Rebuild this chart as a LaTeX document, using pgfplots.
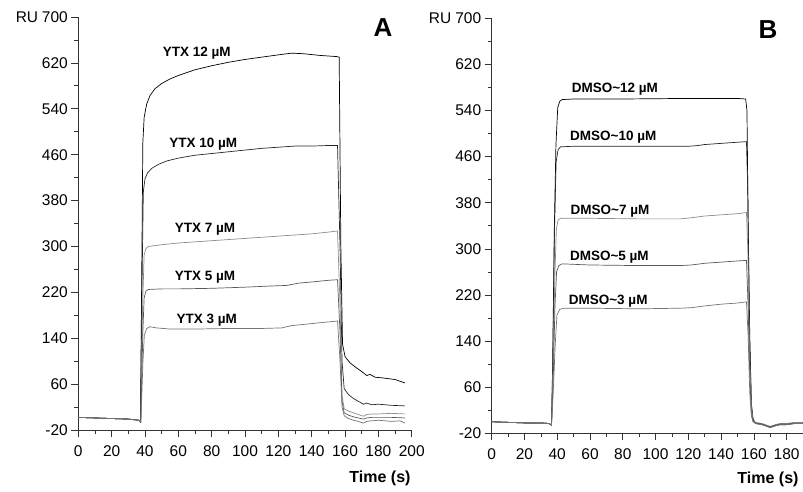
\documentclass[border=0pt]{standalone}
\usepackage{pgfplots}
\pgfplotsset{compat=1.18}
\usepackage{fontspec}
\setmainfont{Liberation Sans}

\pgfplotsset{
  panel/.style={
    scale only axis, anchor=south west,
    axis lines=left, axis line style={-, black!80, line width=0.8pt},
    ymin=-20, ymax=700,
    ytick={-20,60,...,700}, minor y tick num=1,
    minor x tick num=1,
    tick align=outside, major tick length=7pt, minor tick length=4pt,
    tick style={black!80, line width=0.7pt},
    tick label style={font=\fontsize{15.5}{18}\selectfont},
    xticklabel style={yshift=-5pt},
    /pgf/number format/assume math mode=true,
    clip=false,
  },
  curve/.style={line width=0.7pt},
}
\tikzset{lab/.style={font=\fontsize{13.5}{16}\selectfont\bfseries}}

\begin{document}
\begin{tikzpicture}

% ---- panel A: YTX ----
\begin{axis}[panel, at={(78.3pt,61pt)}, width=333.4pt, height=413pt,
  xmin=0, xmax=200, xtick={0,20,...,200}]
\addplot[curve, black] coordinates {
(0,2) (10,1) (20,0) (30,-1) (36.5,-3) (37.3,-6) (38.2,300) (38.7,480) (39.5,525)
(41,548) (43,563) (46,575) (50,584) (55,592) (60,598) (70,608) (80,615) (90,621)
(100,626) (110,630) (120,634) (128,637) (135,636) (145,633) (155,631) (156.5,630)
(157.5,300) (158.5,130) (160,108) (163,97) (167,88) (170,82) (173,75) (175,77)
(178,72) (182,71) (190,68) (196,62) };
\addplot[curve, black!85] coordinates {
(0,2) (10,1) (20,0) (30,-1) (36.5,-3) (37.3,-6) (38.3,250) (39,395) (40,418)
(41.5,428) (44,436) (48,443) (53,449) (60,454) (70,459) (80,462) (90,465)
(100,468) (110,471) (120,473) (130,475) (140,475) (150,476) (155.5,476)
(157,300) (158.2,100) (159.5,52) (162,42) (165,35) (168,30) (171,25) (173,27)
(176,24) (180,25) (188,23) (196,22) };
\addplot[curve, black!45] coordinates {
(0,2) (10,1) (20,0) (30,-1) (36.5,-3) (37.5,-6) (38.6,200) (39.5,285) (40.5,296)
(42,300) (50,303) (60,306) (80,310) (100,314) (120,318) (140,322) (150,325)
(155.5,327) (157,200) (158.2,40) (159.5,17) (162,13) (165,10) (168,7) (171,4)
(173,7) (176,8) (180,8) (188,9) (196,8) };
\addplot[curve, black!65] coordinates {
(0,2) (10,1) (20,0) (30,-1) (36.5,-3) (37.5,-6) (38.7,150) (39.5,210) (40.5,222)
(42,225) (50,226) (60,226) (80,227) (100,229) (115,231) (125,232) (132,236)
(140,238) (150,241) (155.5,242) (157,150) (158.2,30) (159.5,10) (162,6) (165,3)
(168,1) (171,-1) (173,1) (176,2) (180,2) (188,2) (196,1) };
\addplot[curve, black!55] coordinates {
(0,2) (10,1) (20,0) (30,-1) (36.5,-3) (37.5,-6) (38.8,100) (39.6,145) (41,157)
(43,160) (47,158) (55,156) (70,156) (90,157) (110,157) (122,158) (128,162)
(135,164) (145,167) (155.5,170) (157,100) (158.2,20) (159.5,5) (162,0) (165,-3)
(168,-5) (171,-8) (173,-5) (176,-4) (180,-3) (188,-5) (193,-4) (196,-8) };
\node[lab] at (axis cs:71,637) {YTX 12 µM};
\node[lab] at (axis cs:75,479) {YTX 10 µM};
\node[lab] at (axis cs:76,330) {YTX 7 µM};
\node[lab] at (axis cs:76,246) {YTX 5 µM};
\node[lab] at (axis cs:77,172) {YTX 3 µM};
\end{axis}

% ---- panel B: DMSO ----
\begin{axis}[panel, at={(491.7pt,57.7pt)}, width=311.3pt, height=415pt,
  xmin=0, xmax=190, xtick={0,20,...,180}]
\addplot[curve, black] coordinates {
(0,0) (10,-1) (20,-2) (30,-2) (35,-3) (36.5,-6) (37.2,100) (38.2,330) (39.2,480)
(40.3,545) (41.5,556) (43,559) (50,560) (80,560) (120,561) (150,561) (155,560)
(155.8,540) (156.5,350) (157.5,150) (158.5,30) (159.5,5) (161,-2) (165,-4)
(168,-7) (170,-9) (173,-6) (176,-4) (180,-4) (185,-2) (190,-2) };
\addplot[curve, black!85] coordinates {
(0,0) (10,-1) (20,-2) (30,-2) (35,-3) (36.5,-6) (37.3,100) (38.3,330) (39.3,450)
(40.5,472) (42,477) (50,478) (80,478) (100,478) (120,478) (125,479) (130,481)
(140,483) (150,485) (155.5,486) (156.3,400) (157.3,150) (158.5,30) (159.5,3)
(161,-3) (165,-5) (168,-8) (170,-10) (173,-7) (176,-5) (180,-5) (185,-3) (190,-3) };
\addplot[curve, black!45] coordinates {
(0,0) (10,-1) (20,-2) (30,-2) (35,-3) (36.5,-6) (37.5,100) (38.5,250) (39.5,335)
(40.5,350) (42,353) (60,353) (90,352) (115,352) (122,354) (130,357) (140,359)
(150,361) (155.5,363) (156.3,300) (157.3,120) (158.5,25) (159.5,2) (161,-1)
(165,-3) (168,-6) (170,-8) (173,-5) (176,-3) (180,-3) (185,-1) (190,-1) };
\addplot[curve, black!65] coordinates {
(0,0) (10,-1) (20,-2) (30,-2) (35,-3) (36.5,-6) (37.6,80) (38.6,200) (39.6,260)
(41,271) (43,274) (60,272) (90,271) (115,271) (122,272) (130,275) (140,277)
(150,279) (155.5,280) (156.5,200) (157.5,80) (158.5,15) (159.5,1) (161,-2)
(165,-4) (168,-7) (170,-9) (173,-6) (176,-4) (180,-4) (185,-2) (190,-2) };
\addplot[curve, black!55] coordinates {
(0,0) (10,-1) (20,-2) (30,-2) (35,-3) (36.5,-6) (37.7,60) (38.7,130) (39.8,185)
(41.5,195) (44,197) (60,197) (90,196) (115,197) (122,198) (130,201) (140,204)
(150,206) (155.5,208) (156.5,150) (157.5,50) (158.5,10) (159.5,0) (161,-3)
(165,-5) (168,-8) (170,-10) (173,-7) (176,-5) (180,-5) (185,-3) (190,-3) };
\node[lab] at (axis cs:75.2,577) {DMSO\textasciitilde 12 µM};
\node[lab] at (axis cs:74.2,494.6) {DMSO\textasciitilde 10 µM};
\node[lab] at (axis cs:72.2,366) {DMSO\textasciitilde 7 µM};
\node[lab] at (axis cs:71.8,285) {DMSO\textasciitilde 5 µM};
\node[lab] at (axis cs:71.1,210) {DMSO\textasciitilde 3 µM};
\end{axis}

% ---- panel letters and axis titles ----
\node[font=\fontsize{26}{30}\selectfont\bfseries] at (383pt,463pt) {A};
\node[font=\fontsize{26}{30}\selectfont\bfseries] at (768pt,461pt) {B};
\node[font=\fontsize{15.5}{18}\selectfont] at (27pt,474pt) {RU};
\node[font=\fontsize{15.5}{18}\selectfont] at (440pt,472.7pt) {RU};
\node[font=\fontsize{16}{19}\selectfont\bfseries] at (380pt,13pt) {Time (s)};
\node[font=\fontsize{16}{19}\selectfont\bfseries] at (768pt,12pt) {Time (s)};

\pgfresetboundingbox
\path[use as bounding box] (0pt,0pt) rectangle (803pt,491pt);
\end{tikzpicture}
\end{document}
